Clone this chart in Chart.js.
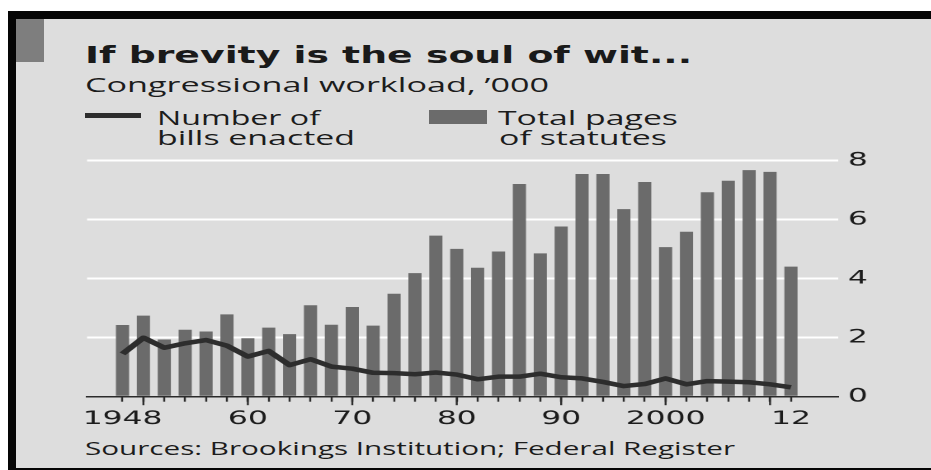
<!DOCTYPE html>
<html>
<head>
<meta charset="utf-8">
<script src="https://cdn.jsdelivr.net/npm/chart.js@4.4.1/dist/chart.umd.min.js"></script>
<style>
  html, body { margin: 0; padding: 0; background: #ffffff; }
  #stage { position: relative; width: 931px; height: 470px; overflow: hidden; }
  #art { position: absolute; left: 0; top: 0; }
  #plot { position: absolute; left: 0; top: 0; height: 470px; transform-origin: 0 0; }
  .sans { font-family: "Open Sans", sans-serif; fill: #1c1c1c; }
</style>
</head>
<body>
<div id="stage">
  <svg id="art" width="931" height="470" xmlns="http://www.w3.org/2000/svg">
    <rect x="8" y="11" width="923" height="459" fill="#050505"/>
    <rect x="16" y="19" width="915" height="449" fill="#dddddd"/>
    <rect x="16" y="19" width="28" height="43" fill="#7e7e7e"/>

    <text x="85" y="62.7" font-family="DejaVu Sans" font-weight="bold" font-size="23.5" fill="#1a1a1a"
          textLength="607" lengthAdjust="spacingAndGlyphs">If brevity is the soul of wit...</text>
    <text class="sans" x="85" y="91.7" font-size="19.6"
          textLength="464" lengthAdjust="spacingAndGlyphs">Congressional workload, ’000</text>

    <rect x="85" y="113" width="56" height="5" fill="#2d2d2d"/>
    <text class="sans" x="157" y="125" font-size="20" textLength="163" lengthAdjust="spacingAndGlyphs">Number of</text>
    <text class="sans" x="157" y="145" font-size="20" textLength="198" lengthAdjust="spacingAndGlyphs">bills enacted</text>

    <rect x="429" y="110" width="58" height="14" fill="#6b6b6b"/>
    <text class="sans" x="498" y="125" font-size="20" textLength="180" lengthAdjust="spacingAndGlyphs">Total pages</text>
    <text class="sans" x="499" y="145" font-size="20" textLength="168" lengthAdjust="spacingAndGlyphs">of statutes</text>

    <text class="sans" x="85" y="455" font-size="18.2"
          textLength="650" lengthAdjust="spacingAndGlyphs">Sources: Brookings Institution; Federal Register</text>
  </svg>
  <div id="plot"><canvas id="chart"></canvas></div>
</div>

<script>
// Congress-by-Congress workload, thousands
const years = [1948, 1950, 1952, 1954, 1956, 1958, 1960, 1962, 1964, 1966, 1968,
               1970, 1972, 1974, 1976, 1978, 1980, 1982, 1984, 1986, 1988, 1990,
               1992, 1994, 1996, 1998, 2000, 2002, 2004, 2006, 2008, 2010, 2012];

const statutePages = [2.43, 2.75, 1.94, 2.27, 2.21, 2.79, 1.98, 2.34, 2.12, 3.10, 2.44,
                      3.04, 2.41, 3.49, 4.19, 5.46, 5.01, 4.37, 4.92, 7.21, 4.86, 5.77,
                      7.55, 7.55, 6.36, 7.28, 5.07, 5.59, 6.93, 7.32, 7.68, 7.62, 4.41];

const billsEnacted = [1.45, 2.00, 1.66, 1.81, 1.92, 1.73, 1.36, 1.55, 1.07, 1.27, 1.02,
                      0.95, 0.81, 0.80, 0.76, 0.82, 0.75, 0.59, 0.68, 0.68, 0.78, 0.66,
                      0.62, 0.50, 0.36, 0.43, 0.62, 0.42, 0.53, 0.51, 0.49, 0.42, 0.32];

const labelYears = [1948, 1960, 1970, 1980, 1990, 2000, 2012];
const labelText  = ['1948', '60', '70', '80', '90', '2000', '12'];
const decadeYears = [1950, 1960, 1970, 1980, 1990, 2000, 2010];
const yTickValues = [0, 2, 4, 6, 8];

// horizontal stretch applied to the plot canvas
const S = 1.65;
const W = 931;
const H = 470;
const plotLeft = 87, plotRight = 838, plotTop = 160.7, plotBottom = 396.7;

document.getElementById('plot').style.width = (W / S) + 'px';
document.getElementById('plot').style.transform = 'scaleX(' + S + ')';

const ink = '#2b2b2b';
const tickFont = { family: 'DejaVu Sans', size: 19 };

// longer tick marks at each decade
const decadeTicks = {
  id: 'decadeTicks',
  afterDraw(chart) {
    const { ctx, scales: { x }, chartArea } = chart;
    ctx.save();
    ctx.strokeStyle = ink;
    ctx.lineWidth = 2 / S;
    decadeYears.forEach(d => {
      const px = x.getPixelForValue(d);
      ctx.beginPath();
      ctx.moveTo(px, chartArea.bottom);
      ctx.lineTo(px, chartArea.bottom + 8.5);
      ctx.stroke();
    });
    ctx.restore();
  }
};

function build() {
  new Chart(document.getElementById('chart'), {
    data: {
      datasets: [
        {
          type: 'line',
          label: 'Number of bills enacted',
          data: years.map((y, i) => ({ x: y, y: billsEnacted[i] })),
          borderColor: '#2d2d2d',
          borderWidth: 4.5,
          pointRadius: 0,
          tension: 0,
          borderJoinStyle: 'round',
          order: 0
        },
        {
          type: 'bar',
          label: 'Total pages of statutes',
          data: years.map((y, i) => ({ x: y, y: statutePages[i] })),
          backgroundColor: '#6b6b6b',
          categoryPercentage: 1,
          barPercentage: 0.63,
          order: 1
        }
      ]
    },
    options: {
      responsive: true,
      maintainAspectRatio: false,
      animation: false,
      devicePixelRatio: 2,
      layout: { padding: { left: plotLeft / S, top: plotTop, right: 0, bottom: 0 } },
      plugins: { legend: { display: false }, tooltip: { enabled: false } },
      scales: {
        x: {
          type: 'linear',
          min: 1944.6,
          max: 2016.5,
          offset: false,
          afterBuildTicks: s => { s.ticks = years.map(v => ({ value: v })); },
          afterFit: s => { s.height = H - plotBottom; },
          ticks: {
            autoSkip: false,
            maxRotation: 0,
            padding: 6,
            font: tickFont,
            color: '#1c1c1c',
            callback: v => {
              const i = labelYears.indexOf(v);
              return i < 0 ? '' : labelText[i];
            }
          },
          grid: {
            offset: false,
            drawOnChartArea: false,
            drawTicks: true,
            tickLength: 5,
            tickWidth: 2 / S,
            tickColor: ink
          },
          border: { display: true, color: ink, width: 1.5, z: 1 }
        },
        y: {
          position: 'right',
          min: 0,
          max: 8,
          afterBuildTicks: s => { s.ticks = yTickValues.map(v => ({ value: v })); },
          afterFit: s => { s.width = (W - plotRight) / S; },
          ticks: { padding: 10 / S, font: tickFont, color: '#1c1c1c' },
          grid: {
            color: c => (c.tick && c.tick.value === 0) ? 'rgba(0,0,0,0)' : '#ffffff',
            lineWidth: 2,
            drawTicks: false
          },
          border: { display: false }
        }
      }
    },
    plugins: [decadeTicks]
  });
}

if (document.fonts && document.fonts.load) {
  Promise.all([
    document.fonts.load('19px "DejaVu Sans"'),
    document.fonts.load('20px "Open Sans"')
  ]).then(build, build);
} else {
  build();
}
</script>
</body>
</html>
